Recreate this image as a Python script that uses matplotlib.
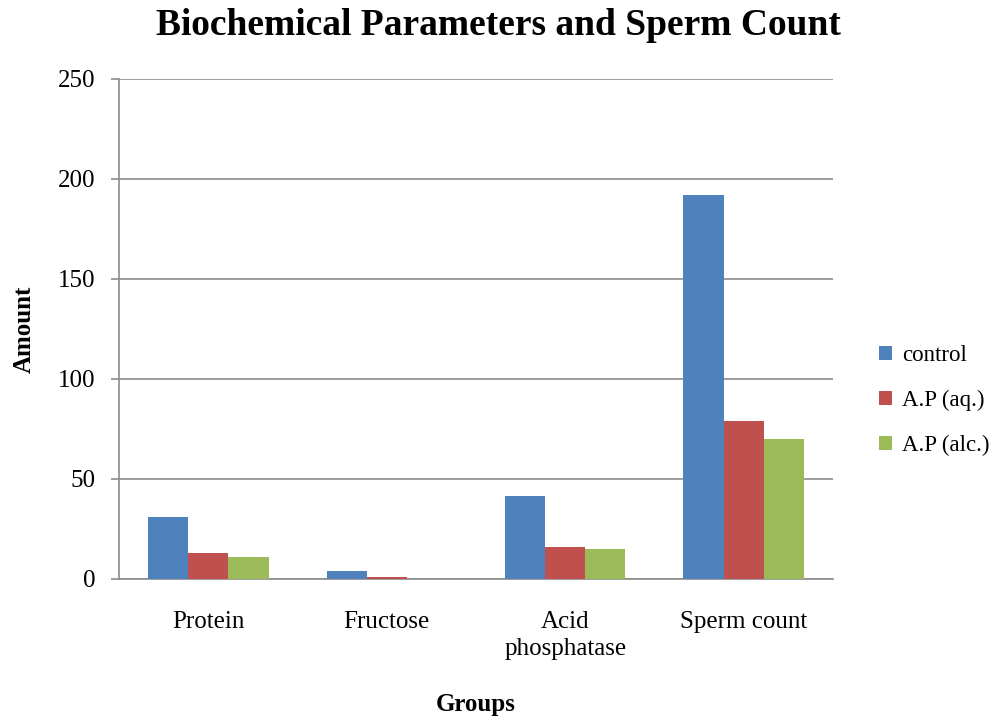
import matplotlib.pyplot as plt
import numpy as np
from matplotlib.patches import Patch

categories = ["Protein", "Fructose", "Acid\nphosphatase", "Sperm count"]
series_names = ["control", "A.P (aq.)", "A.P (alc.)"]
control = [31, 4.2, 41.4, 192]
ap_aq = [13.2, 1.2, 16.2, 79.2]
ap_alc = [11, 0.2, 15.2, 70]
colors = ["#4F81BD", "#C0504D", "#9BBB59"]
yticks = [0, 50, 100, 150, 200, 250]

plt.rcParams['font.family'] = ['Liberation Serif', 'DejaVu Serif']

fig = plt.figure(figsize=(10.01, 7.18), dpi=100)
ax = fig.add_axes([0.119, 0.1936, 0.713, 0.6964])

x = np.arange(len(categories))
w = 0.225
for i, (vals, c) in enumerate(zip([control, ap_aq, ap_alc], colors)):
    ax.bar(x + (i - 1) * w, vals, w, color=c, edgecolor='none', zorder=3)

ax.set_xlim(-0.5, len(categories) - 0.5)
ax.set_ylim(0, 250)
ax.set_yticks(yticks)
ax.set_yticklabels([str(t) for t in yticks], fontsize=18)
ax.yaxis.grid(True, color='#8c8c8c', linewidth=1.2, zorder=0)
ax.set_xticks(x)
ax.set_xticklabels(categories, fontsize=18, linespacing=1.3)
ax.tick_params(axis='x', length=0, pad=23)
ax.tick_params(axis='y', length=6, width=1.2, color='#8c8c8c', pad=11)
for s in ['top', 'right']:
    ax.spines[s].set_visible(False)
ax.spines['left'].set_color('#8c8c8c')
ax.spines['left'].set_linewidth(1.2)
ax.spines['bottom'].set_color('#8c8c8c')
ax.spines['bottom'].set_linewidth(1.2)

ax.set_ylabel("Amount", fontsize=18, fontweight='bold', labelpad=16)
ax.set_xlabel("Groups", fontsize=18, fontweight='bold', labelpad=24)
fig.text(0.498, 0.965, "Biochemical Parameters and Sperm Count", ha='center', va='center',
         fontsize=27, fontweight='bold')

handles = [Patch(facecolor=c, edgecolor='none') for c in colors]
fig.legend(handles, series_names, loc='center left', bbox_to_anchor=(0.862, 0.442),
           frameon=False, fontsize=16.5, handlelength=0.55, handleheight=0.55,
           handletextpad=0.45, labelspacing=1.05, borderpad=0.2)

fig.savefig("out.png", dpi=100)
